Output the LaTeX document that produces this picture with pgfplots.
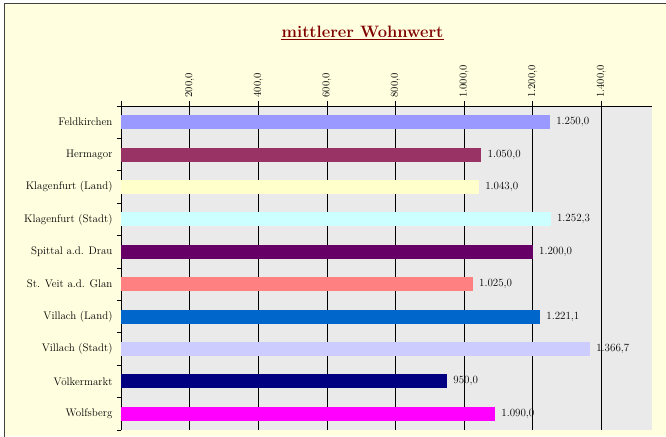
\documentclass[border=0pt]{standalone}
\usepackage{pgfplots}
\pgfplotsset{compat=1.18}
\definecolor{bgc}{HTML}{FFFFE0}
\definecolor{framec}{HTML}{404040}
\definecolor{plotbg}{HTML}{EAEAEA}
\definecolor{titlec}{HTML}{800000}
\definecolor{cA}{HTML}{9999FF}
\definecolor{cB}{HTML}{993366}
\definecolor{cC}{HTML}{FFFFCC}
\definecolor{cD}{HTML}{CCFFFF}
\definecolor{cE}{HTML}{660066}
\definecolor{cF}{HTML}{FF8080}
\definecolor{cG}{HTML}{0066CC}
\definecolor{cH}{HTML}{CCCCFF}
\definecolor{cI}{HTML}{000080}
\definecolor{cJ}{HTML}{FF00FF}
\newcommand\lf{\fontsize{11}{13}\selectfont}
\begin{document}
\begin{tikzpicture}
\useasboundingbox (0pt,0pt) rectangle (666pt,436pt);
\fill[white] (0pt,0pt) rectangle (666pt,436pt);
\fill[bgc] (4.5pt,0pt) rectangle (666pt,432.5pt);
\draw[framec, line width=1.5pt] (4.5pt,-2pt) -- (4.5pt,432.5pt) -- (668pt,432.5pt);
\node (t) [anchor=base, inner sep=0pt, text=titlec, font=\fontsize{16.5}{19}\selectfont\bfseries] at (362.5pt,398.3pt) {mittlerer Wohnwert};
\draw[titlec, line width=1.3pt] ([yshift=-1.9pt]t.base west) -- ([yshift=-1.9pt]t.base east);
\begin{axis}[
  at={(121pt,6pt)}, anchor=south west,
  scale only axis, width=531pt, height=324pt,
  xbar, bar width=14pt, bar shift=0pt,
  xmin=0, xmax=1548, ymin=-0.5, ymax=9.5,
  axis background/.style={fill=plotbg},
  axis x line*=top, axis y line*=left,
  axis line style={black, line width=0.8pt},
  xtick={200,400,...,1400},
  extra x ticks={0}, extra x tick labels={},
  xmajorgrids, grid style={black, line width=0.6pt},
  tick align=outside, major tick length=5pt, minor tick length=4pt,
  tick style={black, line width=0.6pt},
  ytick={0,...,9},
  yticklabels={Wolfsberg,Völkermarkt,Villach (Stadt),Villach (Land),St. Veit a.d. Glan,Spittal a.d. Drau,Klagenfurt (Stadt),Klagenfurt (Land),Hermagor,Feldkirchen},
  minor ytick={-0.5,0.5,1.5,2.5,3.5,4.5,5.5,6.5,7.5,8.5,9.5},
  major y tick style={draw=none},
  xticklabel style={rotate=90, anchor=west, font=\fontsize{10.5}{12}\selectfont},
  yticklabel style={font=\lf},
  /pgf/number format/fixed,
  /pgf/number format/fixed zerofill,
  /pgf/number format/precision=1,
  /pgf/number format/use comma,
  /pgf/number format/1000 sep={.},
  /pgf/number format/assume math mode=true,
  nodes near coords, point meta=x,
  nodes near coords style={font=\lf, anchor=west, xshift=3pt, text=black},
]
\addplot[fill=cA, draw=none] coordinates {(1250,9)};
\addplot[fill=cB, draw=none] coordinates {(1050,8)};
\addplot[fill=cC, draw=none] coordinates {(1043,7)};
\addplot[fill=cD, draw=none] coordinates {(1252.3,6)};
\addplot[fill=cE, draw=none] coordinates {(1200,5)};
\addplot[fill=cF, draw=none] coordinates {(1025,4)};
\addplot[fill=cG, draw=none] coordinates {(1221.1,3)};
\addplot[fill=cH, draw=none] coordinates {(1366.7,2)};
\addplot[fill=cI, draw=none] coordinates {(950,1)};
\addplot[fill=cJ, draw=none] coordinates {(1090,0)};
\end{axis}
\end{tikzpicture}
\end{document}
